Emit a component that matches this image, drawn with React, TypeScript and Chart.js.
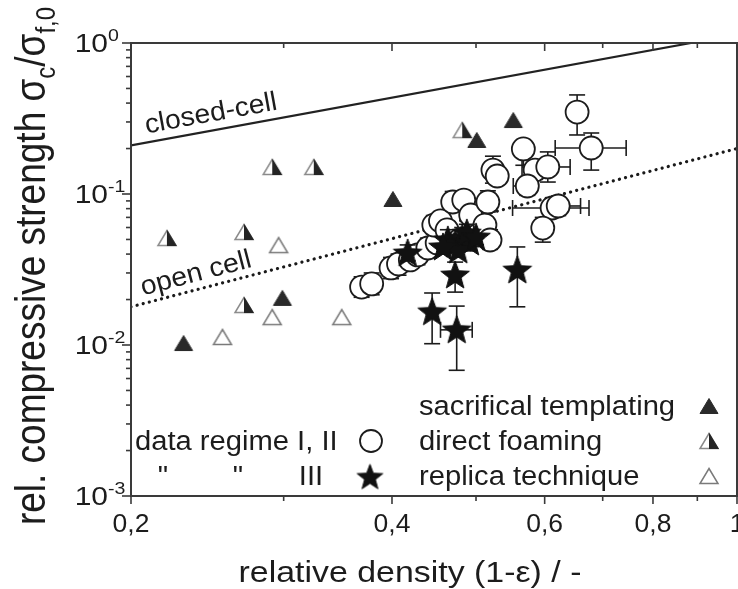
import { useEffect, useRef } from "react";
import { Chart, registerables } from "chart.js";

Chart.register(...registerables);

const FONT = '"Liberation Sans", Arial, Helvetica, sans-serif';
const INK = "#1c1c1c";

// Axis ticks
const densityTicks = [0.2, 0.3, 0.4, 0.5, 0.6, 0.7, 0.8, 0.9, 1.0];
const densityTickLabels = ["0,2", "", "0,4", "", "0,6", "", "0,8", "", "1"];
const strengthDecades = [1, 0.1, 0.01, 0.001];
const strengthExponents = ["0", "-1", "-2", "-3"];

// Gibson-Ashby model lines
const closedCellDensity = [0.2, 0.885];
const closedCellStrength = [0.21, 1.0];
const openCellDensity = [0.2, 1.0];
const openCellStrength = [0.0179, 0.2];

// Sacrificial templating
const sacrificialDensity = [0.23, 0.299, 0.401, 0.501, 0.552];
const sacrificialStrength = [0.0103, 0.0205, 0.0927, 0.228, 0.309];

// Direct foaming
const foamingDensity = [0.22, 0.27, 0.291, 0.325, 0.27, 0.482];
const foamingStrength = [0.0511, 0.056, 0.151, 0.151, 0.0184, 0.265];

// Replica technique
const replicaDensity = [0.296, 0.291, 0.255, 0.35];
const replicaStrength = [0.0459, 0.0153, 0.0113, 0.0153];

// Data regime I, II
const regimeDensity = [0.369, 0.379, 0.399, 0.407, 0.42, 0.428, 0.44, 0.451, 0.447, 0.455, 0.463, 0.47, 0.484, 0.479, 0.493, 0.503, 0.512, 0.519, 0.516, 0.523, 0.529, 0.567, 0.585, 0.605, 0.573, 0.612, 0.622, 0.597, 0.654, 0.679];
const regimeStrength = [0.0242, 0.0254, 0.0324, 0.0344, 0.0366, 0.0395, 0.0439, 0.0474, 0.0623, 0.0663, 0.0578, 0.0885, 0.0912, 0.0496, 0.0726, 0.0535, 0.0623, 0.0496, 0.0885, 0.144, 0.1316, 0.1987, 0.144, 0.151, 0.113, 0.0808, 0.0833, 0.0595, 0.349, 0.2017];
const regimeStrengthLow = [0.0207, 0.0215, 0.0275, 0.029, null, 0.034, 0.038, null, 0.054, null, 0.05, 0.076, null, 0.043, 0.063, 0.046, null, 0.043, 0.076, 0.118, null, 0.155, 0.125, 0.12, 0.098, null, 0.072, 0.048, 0.246, 0.144];
const regimeStrengthHigh = [0.0283, 0.03, 0.038, 0.04, null, 0.045, 0.051, null, 0.072, null, 0.066, 0.104, null, 0.057, 0.084, 0.062, null, 0.058, 0.105, 0.178, null, null, 0.165, 0.19, null, null, 0.094, 0.07, 0.453, 0.2535];
const regimeDensityLow = [null, null, null, null, null, null, null, null, null, null, null, null, null, null, null, null, null, null, null, null, null, null, null, 0.565, 0.552, 0.551, null, null, null, 0.617];
const regimeDensityHigh = [null, null, null, null, null, null, null, null, null, null, null, null, null, null, null, null, null, null, null, null, null, null, null, 0.642, null, 0.675, 0.66, null, null, 0.745];

// Data regime III
const regime3Density = [0.417, 0.464, 0.473, 0.482, 0.492, 0.477, 0.458, 0.488, 0.5, 0.473, 0.445, 0.475, 0.558];
const regime3Strength = [0.0407, 0.0496, 0.0467, 0.0511, 0.0481, 0.0426, 0.0446, 0.0552, 0.0519, 0.0291, 0.0166, 0.0126, 0.0314];
const regime3StrengthLow = [0.036, null, 0.041, null, 0.042, null, null, null, 0.046, 0.0224, 0.0102, 0.0068, 0.0179];
const regime3StrengthHigh = [0.046, 0.058, null, 0.06, null, null, 0.052, 0.063, null, 0.0354, 0.0221, 0.0181, 0.0446];
const regime3DensityLow = [null, null, null, null, null, null, null, null, null, null, null, 0.455, null];
const regime3DensityHigh = [null, null, null, null, null, null, null, null, null, null, null, 0.495, null];

type Pt = { x: number; y: number; yMin: number | null; yMax: number | null; xMin: number | null; xMax: number | null };

function toPoints(xs: number[], ys: number[], yLo?: (number | null)[], yHi?: (number | null)[], xLo?: (number | null)[], xHi?: (number | null)[]): Pt[] {
  return xs.map((x, i) => ({
    x,
    y: ys[i],
    yMin: yLo ? yLo[i] : null,
    yMax: yHi ? yHi[i] : null,
    xMin: xLo ? xLo[i] : null,
    xMax: xHi ? xHi[i] : null,
  }));
}

function triangleMarker(kind: "filled" | "half" | "open"): HTMLCanvasElement {
  const c = document.createElement("canvas");
  c.width = 22;
  c.height = 20;
  const g = c.getContext("2d")!;
  const path = () => {
    g.beginPath();
    g.moveTo(11, 2.5);
    g.lineTo(20, 17.5);
    g.lineTo(2, 17.5);
    g.closePath();
  };
  if (kind === "filled") {
    path();
    g.fillStyle = "#2a2a2a";
    g.fill();
    g.strokeStyle = "#2a2a2a";
    g.lineWidth = 1;
    g.stroke();
  } else if (kind === "open") {
    path();
    g.fillStyle = "#ffffff";
    g.fill();
    g.strokeStyle = "#7a7a7a";
    g.lineWidth = 1.5;
    g.stroke();
  } else {
    path();
    g.fillStyle = "#ffffff";
    g.fill();
    g.strokeStyle = "#8a8a8a";
    g.lineWidth = 1.5;
    g.stroke();
    g.save();
    path();
    g.clip();
    g.fillStyle = "#242424";
    g.fillRect(11, 0, 11, 20);
    g.restore();
    g.beginPath();
    g.moveTo(11, 2.5);
    g.lineTo(20, 17.5);
    g.lineTo(11, 17.5);
    g.strokeStyle = "#242424";
    g.lineWidth = 1.2;
    g.stroke();
  }
  return c;
}

function starMarker(R: number): HTMLCanvasElement {
  const s = Math.ceil(R * 2 + 4);
  const c = document.createElement("canvas");
  c.width = s;
  c.height = s;
  const g = c.getContext("2d")!;
  const cx = s / 2;
  const cy = s / 2 + R * 0.06;
  const r = R * 0.42;
  g.beginPath();
  for (let k = 0; k < 10; k++) {
    const rad = k % 2 === 0 ? R : r;
    const a = -Math.PI / 2 + (k * Math.PI) / 5;
    const px = cx + rad * Math.cos(a);
    const py = cy + rad * Math.sin(a);
    if (k === 0) g.moveTo(px, py);
    else g.lineTo(px, py);
  }
  g.closePath();
  g.fillStyle = "#111111";
  g.fill();
  g.strokeStyle = "#111111";
  g.lineWidth = 1;
  g.stroke();
  return c;
}

function drawText(ctx: CanvasRenderingContext2D, text: string, x: number, y: number, size: number, sx: number, align: "left" | "center" | "right") {
  ctx.save();
  ctx.font = `${size}px ${FONT}`;
  const w = ctx.measureText(text).width * sx;
  const x0 = align === "left" ? x : align === "center" ? x - w / 2 : x - w;
  ctx.translate(x0, y);
  ctx.scale(sx, 1);
  ctx.textAlign = "left";
  ctx.textBaseline = "alphabetic";
  ctx.fillStyle = INK;
  ctx.fillText(text, 0, 0);
  ctx.restore();
  return w;
}

export default function App() {
  const canvasRef = useRef<HTMLCanvasElement | null>(null);

  useEffect(() => {
    const canvas = canvasRef.current;
    if (!canvas) return;

    const triFilled = triangleMarker("filled");
    const triHalf = triangleMarker("half");
    const triOpen = triangleMarker("open");
    const star = starMarker(15);
    const legendStar = starMarker(13.5);

    const seg = (ctx: CanvasRenderingContext2D, x1: number, y1: number, x2: number, y2: number) => {
      ctx.beginPath();
      ctx.moveTo(x1, y1);
      ctx.lineTo(x2, y2);
      ctx.stroke();
    };

    const errorBarPlugin = {
      id: "errorBars",
      beforeDatasetDraw(chart: any, args: any) {
        const ds = chart.data.datasets[args.index];
        if (!ds.errorBars) return;
        const ctx: CanvasRenderingContext2D = chart.ctx;
        const xs = chart.scales.x;
        const ys = chart.scales.y;
        const cap = 8;
        ctx.save();
        ctx.strokeStyle = INK;
        ctx.lineWidth = 1.6;
        (ds.data as Pt[]).forEach((p) => {
          const px = xs.getPixelForValue(p.x);
          const py = ys.getPixelForValue(p.y);
          if (p.yMax != null) {
            const t = ys.getPixelForValue(p.yMax);
            seg(ctx, px, py, px, t);
            seg(ctx, px - cap, t, px + cap, t);
          }
          if (p.yMin != null) {
            const b = ys.getPixelForValue(p.yMin);
            seg(ctx, px, py, px, b);
            seg(ctx, px - cap, b, px + cap, b);
          }
          if (p.xMin != null) {
            const l = xs.getPixelForValue(p.xMin);
            seg(ctx, px, py, l, py);
            seg(ctx, l, py - cap, l, py + cap);
          }
          if (p.xMax != null) {
            const r = xs.getPixelForValue(p.xMax);
            seg(ctx, px, py, r, py);
            seg(ctx, r, py - cap, r, py + cap);
          }
        });
        ctx.restore();
      },
    };

    const framePlugin = {
      id: "frameAndText",
      afterDatasetsDraw(chart: any) {
        const ctx: CanvasRenderingContext2D = chart.ctx;
        const a = chart.chartArea;
        const xs = chart.scales.x;
        const ys = chart.scales.y;
        ctx.save();
        ctx.strokeStyle = "#3a3a3a";
        ctx.lineWidth = 2;
        ctx.strokeRect(a.left, a.top, a.right - a.left, a.bottom - a.top);
        ctx.lineWidth = 1.6;
        densityTicks.forEach((v, i) => {
          const px = xs.getPixelForValue(v);
          const len = densityTickLabels[i] ? 8 : 5;
          seg(ctx, px, a.bottom, px, a.bottom + len);
          seg(ctx, px, a.top, px, a.top + len);
        });
        strengthDecades.forEach((d) => {
          const py = ys.getPixelForValue(d);
          seg(ctx, a.left - 9, py, a.left, py);
          if (d < 1) {
            for (let m = 2; m <= 9; m++) {
              const pm = ys.getPixelForValue(d * m);
              seg(ctx, a.left - 5, pm, a.left, pm);
            }
          }
        });
        ctx.restore();
      },
      afterDraw(chart: any) {
        const ctx: CanvasRenderingContext2D = chart.ctx;
        const xs = chart.scales.x;
        const ys = chart.scales.y;

        // Tick labels
        densityTicks.forEach((v, i) => {
          if (densityTickLabels[i]) drawText(ctx, densityTickLabels[i], xs.getPixelForValue(v), 532, 25, 1.06, "center");
        });
        strengthDecades.forEach((d, i) => {
          const py = ys.getPixelForValue(d);
          drawText(ctx, "10", 108, py + 9, 25, 1.2, "right");
          drawText(ctx, strengthExponents[i], 108, py - 2, 17, 1.15, "left");
        });

        // Axis titles
        drawText(ctx, "relative density (1-ε) / -", 410, 582, 30, 1.13, "center");

        const parts = [
          { t: "rel. compressive strength σ", size: 37, dy: 0, w: 0 },
          { t: "c", size: 24, dy: 9, w: 0 },
          { t: "/σ", size: 37, dy: 0, w: 0 },
          { t: "f,0", size: 24, dy: 9, w: 0 },
        ];
        ctx.save();
        ctx.translate(45, 266);
        ctx.scale(1.15, 1);
        ctx.rotate(-Math.PI / 2);
        ctx.fillStyle = INK;
        ctx.textBaseline = "alphabetic";
        let total = 0;
        parts.forEach((p) => {
          ctx.font = `${p.size}px ${FONT}`;
          p.w = ctx.measureText(p.t).width;
          total += p.w;
        });
        let tx = -total / 2;
        parts.forEach((p) => {
          ctx.font = `${p.size}px ${FONT}`;
          ctx.fillText(p.t, tx, p.dy);
          tx += p.w;
        });
        ctx.restore();

        // Line annotations along the model lines
        const lineLabel = (text: string, dx: number[], dy: number[], startX: number, offset: number) => {
          const x1 = xs.getPixelForValue(dx[0]);
          const y1 = ys.getPixelForValue(dy[0]);
          const x2 = xs.getPixelForValue(dx[1]);
          const y2 = ys.getPixelForValue(dy[1]);
          const ang = Math.atan2(y2 - y1, x2 - x1);
          const yAt = y1 + ((startX - x1) * (y2 - y1)) / (x2 - x1);
          ctx.save();
          ctx.translate(startX, yAt);
          ctx.rotate(ang);
          ctx.translate(0, -offset);
          ctx.scale(1.05, 1);
          ctx.font = `27px ${FONT}`;
          ctx.fillStyle = INK;
          ctx.textBaseline = "alphabetic";
          ctx.fillText(text, 0, 0);
          ctx.restore();
        };
        lineLabel("closed-cell", closedCellDensity, closedCellStrength, 148, 9);
        lineLabel("open cell", openCellDensity, openCellStrength, 145, 8);

        // Legend
        const LS = 27;
        const LX = 1.08;
        drawText(ctx, "sacrifical templating", 419, 415, LS, LX, "left");
        drawText(ctx, "direct foaming", 419, 450, LS, LX, "left");
        drawText(ctx, "replica technique", 419, 485, LS, LX, "left");
        ctx.drawImage(triFilled, 709 - 11, 406 - 10);
        ctx.drawImage(triHalf, 709 - 11, 441 - 10);
        ctx.drawImage(triOpen, 709 - 11, 476 - 10);

        drawText(ctx, "data regime I, II", 135, 450, LS, LX, "left");
        drawText(ctx, '"', 163, 485, LS, LX, "center");
        drawText(ctx, '"', 238, 485, LS, LX, "center");
        drawText(ctx, "III", 311, 485, LS, LX, "center");
        ctx.save();
        ctx.beginPath();
        ctx.arc(371, 441, 11, 0, Math.PI * 2);
        ctx.fillStyle = "#ffffff";
        ctx.fill();
        ctx.strokeStyle = INK;
        ctx.lineWidth = 1.8;
        ctx.stroke();
        ctx.restore();
        ctx.drawImage(legendStar, 370 - legendStar.width / 2, 477 - legendStar.height / 2);
      },
    };

    const chart = new Chart(canvas, {
      type: "scatter",
      data: {
        datasets: [
          {
            label: "regime III",
            data: toPoints(regime3Density, regime3Strength, regime3StrengthLow, regime3StrengthHigh, regime3DensityLow, regime3DensityHigh),
            pointStyle: star,
            pointRadius: 10,
            errorBars: true,
          } as any,
          {
            label: "regime I, II",
            data: toPoints(regimeDensity, regimeStrength, regimeStrengthLow, regimeStrengthHigh, regimeDensityLow, regimeDensityHigh),
            pointStyle: "circle",
            pointRadius: 11.5,
            pointBackgroundColor: "#ffffff",
            pointBorderColor: INK,
            pointBorderWidth: 1.8,
            errorBars: true,
          } as any,
          {
            label: "sacrifical templating",
            data: toPoints(sacrificialDensity, sacrificialStrength),
            pointStyle: triFilled,
            pointRadius: 9,
          },
          {
            label: "direct foaming",
            data: toPoints(foamingDensity, foamingStrength),
            pointStyle: triHalf,
            pointRadius: 9,
          },
          {
            label: "replica technique",
            data: toPoints(replicaDensity, replicaStrength),
            pointStyle: triOpen,
            pointRadius: 9,
          },
          {
            label: "closed-cell",
            data: closedCellDensity.map((x, i) => ({ x, y: closedCellStrength[i] })),
            showLine: true,
            borderColor: "#222222",
            borderWidth: 2.2,
            pointRadius: 0,
          },
          {
            label: "open cell",
            data: openCellDensity.map((x, i) => ({ x, y: openCellStrength[i] })),
            showLine: true,
            borderColor: "#1a1a1a",
            borderWidth: 3.2,
            borderDash: [0.01, 6.3],
            borderCapStyle: "round",
            pointRadius: 0,
          },
        ],
      },
      options: {
        animation: false,
        responsive: false,
        events: [],
        layout: { autoPadding: false, padding: { top: 43, right: 1, left: 0, bottom: 0 } },
        plugins: { legend: { display: false }, tooltip: { enabled: false } },
        scales: {
          x: {
            type: "logarithmic",
            min: 0.2,
            max: 1.0,
            grid: { display: false },
            border: { display: false },
            ticks: { display: false },
            afterFit: (s: any) => {
              s.height = 93;
            },
          },
          y: {
            type: "logarithmic",
            min: 0.001,
            max: 1,
            grid: { display: false },
            border: { display: false },
            ticks: { display: false },
            afterFit: (s: any) => {
              s.width = 131;
            },
          },
        },
      },
      plugins: [errorBarPlugin, framePlugin],
    } as any);

    return () => {
      chart.destroy();
    };
  }, []);

  return (
    <div style={{ position: "fixed", left: 0, top: 0, width: 738, height: 589, background: "#ffffff" }}>
      <canvas ref={canvasRef} width={738} height={589} style={{ display: "block" }} />
    </div>
  );
}
